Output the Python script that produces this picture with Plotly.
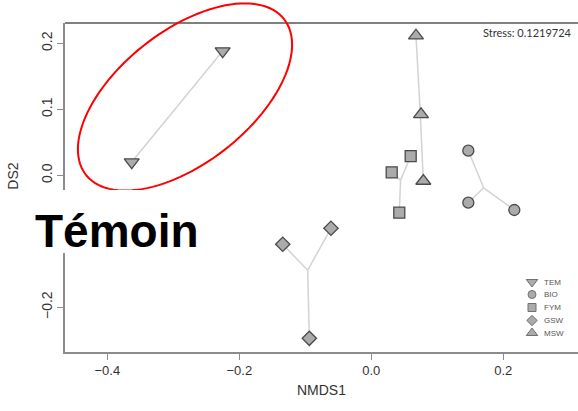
import numpy as np
import plotly.graph_objects as go

# ---------------- data ----------------
groups = ["TEM", "BIO", "FYM", "GSW", "MSW"]
TEM_x = [-0.2252, -0.3630]
TEM_y = [0.1882, 0.0200]
BIO_x = [0.1470, 0.1470, 0.2167]
BIO_y = [0.0373, -0.0415, -0.0526]
FYM_x = [0.0597, 0.0309, 0.0424]
FYM_y = [0.0292, 0.0045, -0.0567]
GSW_x = [-0.0611, -0.1342, -0.0939]
GSW_y = [-0.0803, -0.1045, -0.2470]
MSW_x = [0.0677, 0.0753, 0.0788]
MSW_y = [0.2115, 0.0923, -0.0086]
x_ticks = [-0.4, -0.2, 0.0, 0.2]
y_ticks = [-0.2, -0.1, 0.0, 0.1, 0.2]
stress_label = "Stress: 0.1219724"
highlight_label = "Témoin"
x_title = "NMDS1"
y_title = "NMDS2"

group_x = {"TEM": TEM_x, "BIO": BIO_x, "FYM": FYM_x, "GSW": GSW_x, "MSW": MSW_x}
group_y = {"TEM": TEM_y, "BIO": BIO_y, "FYM": FYM_y, "GSW": GSW_y, "MSW": MSW_y}
symbols = {"TEM": "triangle-down", "BIO": "circle", "FYM": "square",
           "GSW": "diamond", "MSW": "triangle-up"}
sizes = {"TEM": 13, "BIO": 11, "FYM": 11, "GSW": 11, "MSW": 13}
leg_sizes = {"TEM": 10, "BIO": 8, "FYM": 8, "GSW": 8, "MSW": 10}

# ---------------- geometry (pixels) ----------------
W, H = 578, 411
L, R, T, B = 65, 578, 23, 352
PW, PH = R - L, B - T
SCALE = 660.0
X0, Y0 = 371.3, 175.3
x_range = [(L - X0) / SCALE, (R - X0) / SCALE]
y_range = [(Y0 - B) / SCALE, (Y0 - T) / SCALE]


def pxx(p):
    return (p - L) / PW


def pxy(p):
    return (B - p) / PH


FILL = "#ababab"
EDGE = "#4a4a4a"
SPIDER = "#d3d3d3"

fig = go.Figure()

# spider lines (centroid -> each point)
for g in groups:
    xs, ys = np.array(group_x[g]), np.array(group_y[g])
    cx, cy = xs.mean(), ys.mean()
    lx, ly = [], []
    for a, b in zip(xs, ys):
        lx += [cx, a, None]
        ly += [cy, b, None]
    fig.add_trace(go.Scatter(x=lx, y=ly, mode="lines",
                             line=dict(color=SPIDER, width=1.5),
                             hoverinfo="skip", showlegend=False))

for g in groups:
    fig.add_trace(go.Scatter(x=group_x[g], y=group_y[g], mode="markers",
                             marker=dict(symbol=symbols[g], size=sizes[g], color=FILL,
                                         line=dict(color=EDGE, width=1.3)),
                             name=g, showlegend=False))

# manual legend on overlay axes
leg_y_pix = [282, 294.5, 307.5, 320.5, 333]
for g, yp in zip(groups, leg_y_pix):
    fig.add_trace(go.Scatter(x=[pxx(532)], y=[pxy(yp)], xaxis="x2", yaxis="y2",
                             mode="markers",
                             marker=dict(symbol=symbols[g], size=leg_sizes[g], color=FILL,
                                         line=dict(color="#707070", width=1)),
                             showlegend=False, hoverinfo="skip"))

annotations = []
for g, yp in zip(groups, leg_y_pix):
    annotations.append(dict(text=g, x=pxx(542), y=pxy(yp), xref="paper", yref="paper",
                            xanchor="left", yanchor="middle", showarrow=False,
                            font=dict(family="Liberation Sans", size=8, color="#555555")))

annotations.append(dict(text=stress_label, x=pxx(574), y=pxy(33), xref="paper", yref="paper",
                        xanchor="right", yanchor="middle", showarrow=False,
                        font=dict(family="Lato", size=11, color="#333333")))

# y axis title as annotation (so the white box can cover part of it)
annotations.append(dict(text=y_title, x=pxx(12), y=pxy(187.5), xref="paper", yref="paper",
                        xanchor="center", yanchor="middle", textangle=-90, showarrow=False,
                        font=dict(family="Liberation Sans", size=14, color="#333333")))
# white cover box
annotations.append(dict(text=" ", x=pxx(0), y=pxy(221.5), xref="paper", yref="paper",
                        xanchor="left", yanchor="middle", width=210, height=63,
                        bgcolor="white", borderpad=0, borderwidth=0, showarrow=False))
annotations.append(dict(text=highlight_label, x=pxx(33), y=pxy(231), xref="paper", yref="paper",
                        xanchor="left", yanchor="middle", showarrow=False,
                        font=dict(family="Liberation Sans", size=46, color="black",
                                  weight="bold")))

# red ellipse (pixel -> paper)
cxp, cyp, a, b, th = 185.0, 97.0, 126.0, 66.0, np.deg2rad(38.2)
t = np.linspace(0, 2 * np.pi, 120)
ex = cxp + a * np.cos(t) * np.cos(th) - b * np.sin(t) * np.sin(th)
ey = cyp - (a * np.cos(t) * np.sin(th) + b * np.sin(t) * np.cos(th))
path = "M " + " L ".join(f"{pxx(u):.5f},{pxy(v):.5f}" for u, v in zip(ex, ey)) + " Z"

shapes = [
    dict(type="line", xref="paper", yref="paper", x0=0, x1=1, y0=1, y1=1,
         line=dict(color="black", width=1)),
    dict(type="path", xref="paper", yref="paper", path=path,
         line=dict(color="#ff0000", width=2), fillcolor="rgba(0,0,0,0)", layer="above"),
]

fig.update_layout(
    width=W, height=H,
    margin=dict(l=L, r=W - R, t=T, b=H - B),
    paper_bgcolor="white", plot_bgcolor="white",
    showlegend=False,
    xaxis=dict(range=x_range, tickvals=x_ticks, tickformat=".1f", showgrid=False,
               zeroline=False, showline=True, linecolor="#8c8c8c", linewidth=1.5,
               ticks="outside", ticklen=6, tickcolor="#8c8c8c", tickwidth=1,
               tickfont=dict(family="Liberation Sans", size=13, color="#333333"),
               title=dict(text=x_title, standoff=8,
                          font=dict(family="Liberation Sans", size=14, color="#333333"))),
    yaxis=dict(range=y_range, tickvals=y_ticks, tickformat=".1f", showgrid=False,
               zeroline=False, showline=True, linecolor="#8c8c8c", linewidth=1.5,
               ticks="outside", ticklen=6, tickcolor="#8c8c8c", tickwidth=1,
               tickangle=-90,
               tickfont=dict(family="Liberation Sans", size=14, color="#333333")),
    xaxis2=dict(overlaying="x", range=[0, 1], visible=False, domain=[0, 1]),
    yaxis2=dict(overlaying="y", range=[0, 1], visible=False, domain=[0, 1]),
    annotations=annotations,
    shapes=shapes,
)

fig.write_html("out.html")
